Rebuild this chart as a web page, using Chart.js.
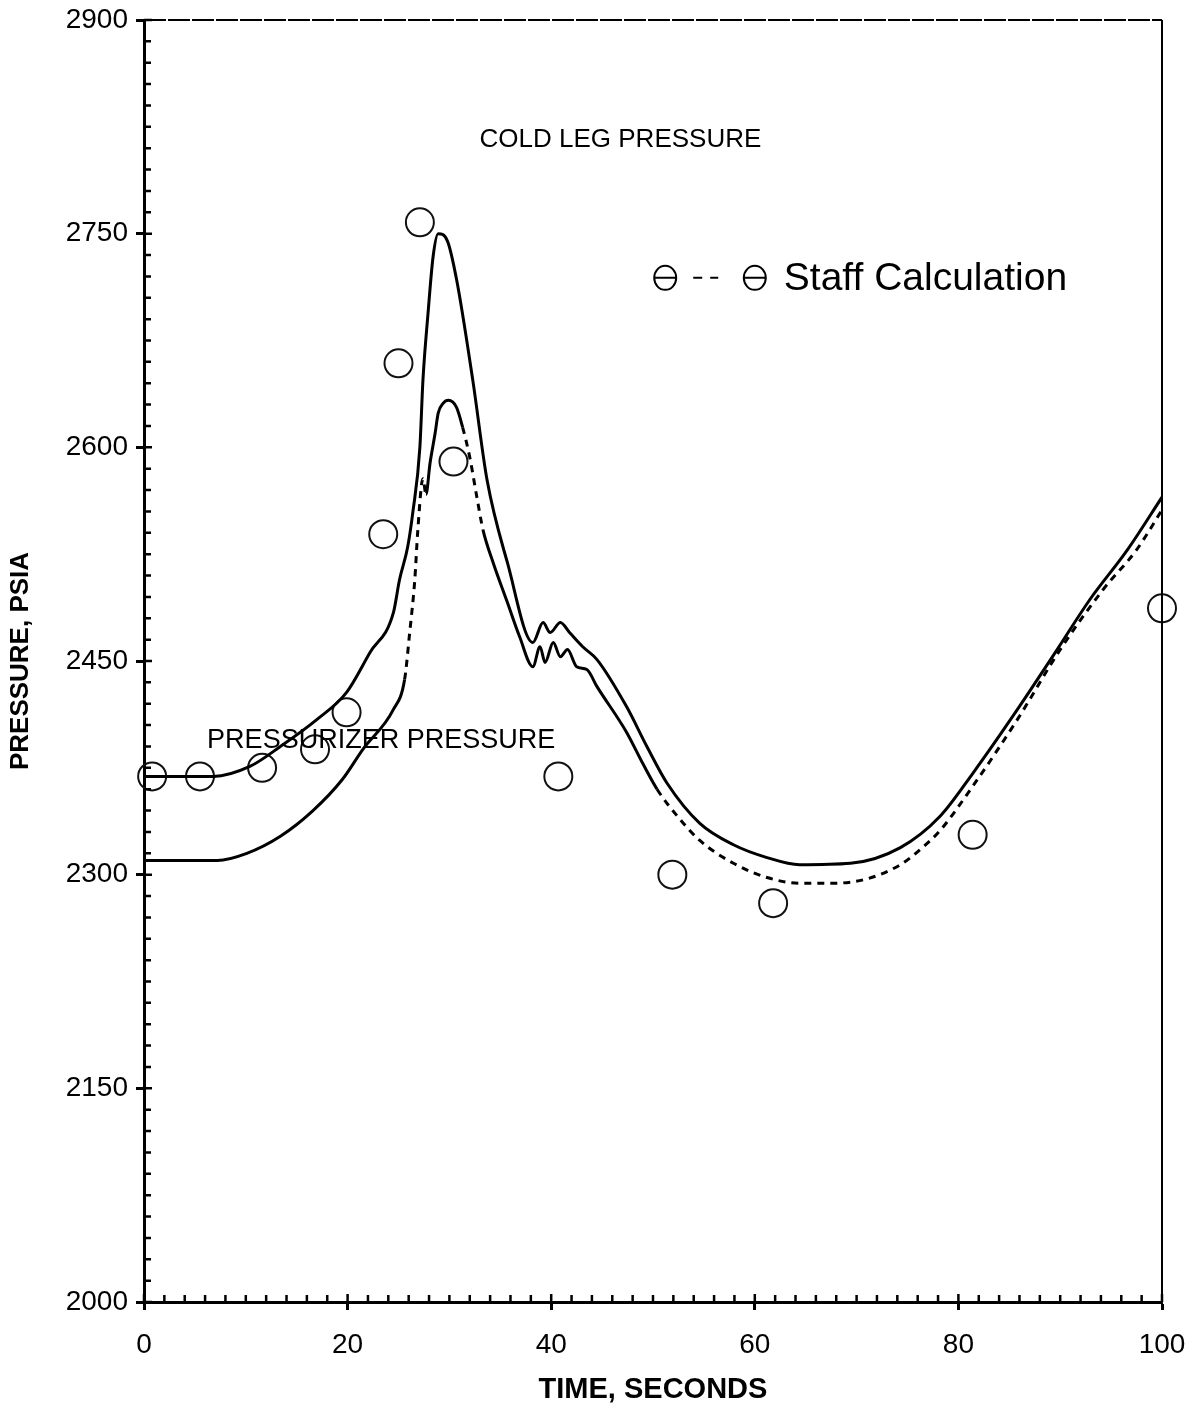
<!DOCTYPE html>
<html>
<head>
<meta charset="utf-8">
<title>Cold leg / pressurizer pressure</title>
<script src="https://cdn.jsdelivr.net/npm/chart.js@4.4.1/dist/chart.umd.min.js"></script>
<style>
  html, body { margin: 0; padding: 0; background: #fff; }
  #wrap { width: 1190px; height: 1410px; position: relative; }
</style>
</head>
<body>
<div id="wrap"><canvas id="chart"></canvas></div>
<script>
// upper solid curve (starts ~2370 psia)
const upperT = [0, 6.8, 10.4, 13.4, 17.0, 19.9, 22.2, 24.5, 25.1, 25.9, 26.4, 27.1, 27.4, 27.9, 28.4, 28.9, 29.8, 30.7, 32.3, 33.7, 35.7, 38.2, 39.2, 39.9, 40.9, 41.8, 43.1, 44.5, 47.4, 49.4, 51.4, 54.6, 57.9, 61.2, 64.4, 69.4, 74.3, 78.2, 81.4, 85.8, 89.7, 92.9, 96.6, 100];
const upperP = [2369, 2369, 2376, 2390, 2409, 2428, 2456, 2484, 2507, 2530, 2554, 2600, 2647, 2694, 2734, 2750, 2745, 2718, 2647, 2577, 2519, 2463, 2477, 2470, 2477, 2470, 2460, 2451, 2418, 2390, 2364, 2336, 2321, 2312, 2307, 2308, 2319, 2341, 2371, 2416, 2458, 2493, 2528, 2565];

// lower curve (starts ~2310 psia), partly dashed
const lowerT = [0, 7.2, 10.1, 13.4, 16.6, 19.5, 21.5, 24.5, 25.6, 26.1, 26.6, 26.9, 27.4, 27.7, 28.1, 28.6, 28.9, 29.4, 29.9, 30.7, 31.3, 32.0, 32.7, 33.3, 34.3, 35.7, 36.9, 38.2, 38.9, 39.4, 40.2, 40.9, 41.6, 42.5, 43.5, 44.5, 47.4, 49.0, 50.4, 52.4, 54.6, 57.9, 61.2, 64.4, 67.7, 71.0, 74.3, 76.3, 78.2, 81.4, 85.8, 90.0, 94.2, 97.5, 100];
const lowerP = [2310, 2310, 2315, 2327, 2345, 2367, 2388, 2416, 2437, 2470, 2507, 2542, 2578, 2567, 2589, 2610, 2624, 2631, 2633, 2628, 2614, 2593, 2565, 2542, 2519, 2491, 2467, 2446, 2460, 2449, 2463, 2453, 2458, 2446, 2444, 2432, 2400, 2378, 2360, 2341, 2324, 2308, 2298, 2294, 2294, 2297, 2307, 2318, 2331, 2362, 2409, 2458, 2500, 2528, 2556];
const lowerDashed = [[25.6, 27.7], [31.3, 33.3], [50.4, 100]];

// staff calculation points
const staffT = [0.8, 5.5, 11.6, 16.8, 19.9, 23.5, 25.0, 27.1, 30.4, 40.7, 51.9, 61.8, 81.4, 100];
const staffP = [2369, 2369, 2375, 2388, 2414, 2539, 2659, 2758, 2590, 2369, 2300, 2280, 2328, 2487];

const xMin = 0, xMax = 100, xStep = 20, xMinor = 2;
const yMin = 2000, yMax = 2900, yStep = 150, yMinor = 15;

const FONT = "'Liberation Sans', Arial, Helvetica, sans-serif";

function pts(xs, ys) {
  return xs.map((x, i) => ({ x: x, y: ys[i] }));
}

function inDash(x0, x1) {
  return lowerDashed.some(r => x0 >= r[0] - 0.01 && x1 <= r[1] + 0.01);
}

// frame, inner ticks and the texts on the plot
const decor = {
  id: 'decor',
  afterDraw(chart) {
    const { ctx, chartArea: a, scales: { x, y } } = chart;
    ctx.save();
    ctx.strokeStyle = '#000';
    ctx.fillStyle = '#000';

    ctx.lineWidth = 2;
    ctx.setLineDash([22, 2]);
    ctx.beginPath();
    ctx.moveTo(a.left, a.top); ctx.lineTo(a.right, a.top);
    ctx.stroke();
    ctx.setLineDash([]);
    ctx.beginPath();
    ctx.moveTo(a.right, a.top); ctx.lineTo(a.right, a.bottom);
    ctx.stroke();

    ctx.lineWidth = 2.5;
    ctx.beginPath();
    for (let i = 0; i <= (xMax - xMin) / xMinor; i++) {
      const v = xMin + i * xMinor;
      const px = x.getPixelForValue(v);
      ctx.moveTo(px, a.bottom);
      ctx.lineTo(px, a.bottom - (v % xStep === 0 ? 8 : 7));
    }
    for (let i = 0; i <= (yMax - yMin) / yMinor; i++) {
      const v = yMin + i * yMinor;
      const py = y.getPixelForValue(v);
      ctx.moveTo(a.left, py);
      ctx.lineTo(a.left + ((v - yMin) % yStep === 0 ? 8 : 7), py);
    }
    ctx.stroke();

    ctx.textBaseline = 'middle';
    ctx.textAlign = 'center';
    ctx.font = '26px ' + FONT;
    ctx.fillText('COLD LEG PRESSURE', x.getPixelForValue(46.8), y.getPixelForValue(2816));
    ctx.textAlign = 'left';
    ctx.font = '27px ' + FONT;
    ctx.fillText('PRESSURIZER PRESSURE', x.getPixelForValue(6.2), y.getPixelForValue(2394));

    // legend: circle - - circle Staff Calculation
    const ly = y.getPixelForValue(2719);
    const c1 = x.getPixelForValue(51.2);
    const c2 = x.getPixelForValue(60.0);
    ctx.lineWidth = 2;
    [c1, c2].forEach(cx => {
      ctx.beginPath();
      ctx.ellipse(cx, ly, 11, 12, 0, 0, Math.PI * 2);
      ctx.moveTo(cx - 11, ly); ctx.lineTo(cx + 11, ly);
      ctx.stroke();
    });
    ctx.beginPath();
    ctx.moveTo(c1 + 28, ly); ctx.lineTo(c1 + 37, ly);
    ctx.moveTo(c1 + 45, ly); ctx.lineTo(c1 + 53, ly);
    ctx.stroke();
    ctx.font = '39px ' + FONT;
    ctx.fillText('Staff Calculation', c2 + 29, ly + 1);
    ctx.restore();
  }
};

const ctx = document.getElementById('chart').getContext('2d');
new Chart(ctx, {
  type: 'scatter',
  data: {
    datasets: [
      {
        label: 'Upper pressure',
        data: pts(upperT, upperP),
        showLine: true,
        borderColor: '#000',
        borderWidth: 3,
        pointRadius: 0,
        cubicInterpolationMode: 'monotone'
      },
      {
        label: 'Lower pressure',
        data: pts(lowerT, lowerP),
        showLine: true,
        borderColor: '#000',
        borderWidth: 3,
        pointRadius: 0,
        cubicInterpolationMode: 'monotone',
        segment: {
          borderDash: c => inDash(c.p0.parsed.x, c.p1.parsed.x) ? [7, 6] : undefined
        }
      },
      {
        label: 'Staff Calculation',
        data: pts(staffT, staffP),
        showLine: false,
        clip: false,
        pointStyle: 'circle',
        pointRadius: 14,
        pointBorderWidth: 2,
        pointBorderColor: '#111',
        pointBackgroundColor: 'rgba(0,0,0,0)'
      }
    ]
  },
  options: {
    responsive: true,
    maintainAspectRatio: false,
    animation: false,
    layout: { padding: { top: 20, right: 28, left: 0, bottom: 0 } },
    plugins: { legend: { display: false }, tooltip: { enabled: false } },
    scales: {
      x: {
        type: 'linear',
        min: xMin, max: xMax,
        afterFit: s => { s.height = 108; s.paddingRight = 0; s.paddingLeft = 0; },
        border: { display: true, color: '#000', width: 3 },
        grid: { drawOnChartArea: false, drawTicks: true, tickLength: 8, tickWidth: 3, tickColor: '#000' },
        ticks: { stepSize: xStep, color: '#000', padding: 18, maxRotation: 0, callback: v => String(v), font: { family: FONT, size: 28 } },
        title: { display: true, text: 'TIME, SECONDS', color: '#000', padding: { top: 0, bottom: 3 }, font: { family: FONT, size: 29, weight: 'bold' } }
      },
      y: {
        type: 'linear',
        min: yMin, max: yMax,
        afterFit: s => { s.width = 144; s.paddingTop = 0; s.paddingBottom = 0; },
        border: { display: true, color: '#000', width: 3 },
        grid: { drawOnChartArea: false, drawTicks: true, tickLength: 8, tickWidth: 3, tickColor: '#000' },
        ticks: { stepSize: yStep, color: '#000', padding: 8, callback: v => String(v), font: { family: FONT, size: 28 } },
        title: { display: true, text: 'PRESSURE, PSIA', color: '#000', padding: { top: 5, bottom: 0 }, font: { family: FONT, size: 26, weight: 'bold' } }
      }
    }
  },
  plugins: [decor]
});
</script>
</body>
</html>
